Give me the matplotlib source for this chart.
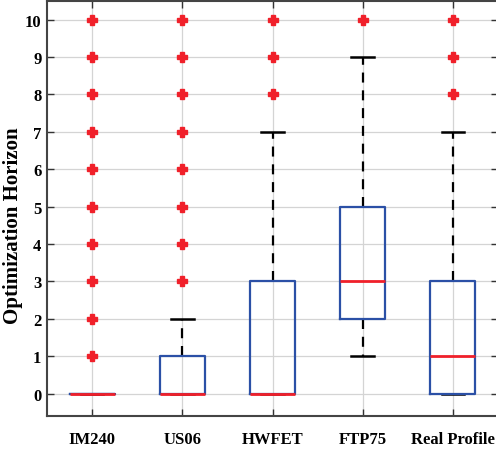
import matplotlib
matplotlib.use("Agg")
import matplotlib.pyplot as plt

# box statistics per drive cycle
categories = ["IM240", "US06", "HWFET", "FTP75", "Real Profile"]
q1 = [0, 0, 0, 2, 0]
medians = [0, 0, 0, 3, 1]
q3 = [0, 1, 3, 5, 3]
whislo = [0, 0, 0, 1, 0]
whishi = [0, 2, 7, 9, 7]
outliers = [
    [1, 2, 3, 4, 5, 6, 7, 8, 9, 10],
    [3, 4, 5, 6, 7, 8, 9, 10],
    [8, 9, 10],
    [10],
    [8, 9, 10],
]

plt.rcParams["font.family"] = ["Liberation Serif", "DejaVu Serif"]
plt.rcParams["font.weight"] = "bold"

stats = []
for i, name in enumerate(categories):
    stats.append(dict(label=name, q1=q1[i], med=medians[i], q3=q3[i],
                      whislo=whislo[i], whishi=whishi[i], fliers=outliers[i]))

fig = plt.figure(figsize=(4.96, 4.52), dpi=100)
ax = fig.add_axes([47 / 496, 35 / 452, 451 / 496, 415 / 452])

blue = "#2b50a6"
red = "#f0202a"
ax.bxp(stats, positions=range(1, 6), widths=0.5, showfliers=True,
       boxprops=dict(color=blue, linewidth=1.6, zorder=4),
       medianprops=dict(color=red, linewidth=2.0, zorder=5),
       whiskerprops=dict(color="black", linewidth=1.6, linestyle=(0, (4.5, 3.5)), zorder=2),
       capprops=dict(color="black", linewidth=1.8, zorder=3),
       capwidths=0.25,
       flierprops=dict(marker="P", markersize=6.5, markerfacecolor=red,
                       markeredgecolor=red, linestyle="none", zorder=6))

ax.set_xlim(0.5, 5.5)
ax.set_ylim(-0.6, 10.5)
ax.set_yticks(range(0, 11))
ax.set_xticks(range(1, 6))
ax.set_xticklabels(categories, fontsize=12, fontweight="bold")
for lab in ax.get_yticklabels():
    lab.set_fontsize(12)
    lab.set_fontweight("bold")
ax.set_ylabel("Optimization Horizon", fontsize=15, fontweight="bold")
ax.yaxis.set_label_coords(-24 / 451, 0.46)

ax.grid(True, color="#d4d4d4", linewidth=0.9)
ax.set_axisbelow(True)
ax.tick_params(direction="in", top=True, right=True, length=5, width=1.0,
               colors="#333333", labelcolor="black")
ax.tick_params(axis="x", pad=11)
ax.tick_params(axis="y", pad=4)
for s in ax.spines.values():
    s.set_color("#444444")
    s.set_linewidth(1.5)

fig.savefig("out.png", dpi=100)
